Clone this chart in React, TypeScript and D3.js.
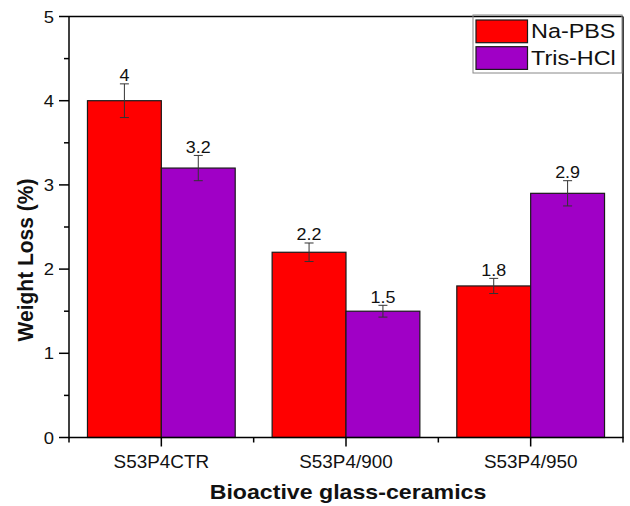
import React from "react";
import * as d3 from "d3";

// Data
const categories = ["S53P4CTR", "S53P4/900", "S53P4/950"];
const seriesNames = ["Na-PBS", "Tris-HCl"];
const naPBS = [4, 2.2, 1.8];
const naPBSErr = [0.2, 0.11, 0.09];
const trisHCl = [3.2, 1.5, 2.9];
const trisHClErr = [0.15, 0.07, 0.15];
const yTicks = [0, 1, 2, 3, 4, 5];
const yMinorTicks = [0.5, 1.5, 2.5, 3.5, 4.5];
const seriesColors = ["#FF0000", "#A000C6"];

const W = 630;
const H = 506;
const FONT = "'Liberation Sans', Arial, sans-serif";
const SX = 1.12; // horizontal text stretch

const plot = { left: 69, right: 623, top: 16.5, bottom: 437.5 };

export default function App() {
  const x = d3.scaleLinear().domain([0.5, categories.length + 0.5]).range([plot.left, plot.right]);
  const y = d3.scaleLinear().domain([0, 5]).range([plot.bottom, plot.top]);
  const barW = 0.4;

  const series = [
    { name: seriesNames[0], values: naPBS, errs: naPBSErr, color: seriesColors[0], offset: -barW },
    { name: seriesNames[1], values: trisHCl, errs: trisHClErr, color: seriesColors[1], offset: 0 },
  ];

  const xMajor = categories.map((_, i) => i + 1);
  const xMinor = d3.range(0.5, categories.length + 1, 1);

  const sText = (tx: number, ty: number, s = SX) => `translate(${tx},${ty}) scale(${s},1)`;

  return (
    <svg
      width={W}
      height={H}
      style={{ position: "absolute", left: 0, top: 0, background: "#fff" }}
      fontFamily={FONT}
    >
      <rect x={0} y={0} width={W} height={H} fill="#fff" />

      {/* bars */}
      {series.map((s) =>
        s.values.map((v, i) => {
          const x0 = x(i + 1 + s.offset);
          const x1 = x(i + 1 + s.offset + barW);
          return (
            <rect
              key={s.name + i}
              x={x0}
              y={y(v)}
              width={x1 - x0}
              height={y(0) - y(v)}
              fill={s.color}
              stroke="#1a1a1a"
              strokeWidth={1.2}
            />
          );
        })
      )}

      {/* error bars and value labels */}
      {series.map((s) =>
        s.values.map((v, i) => {
          const cx = x(i + 1 + s.offset + barW / 2);
          const yt = y(v + s.errs[i]);
          const yb = y(v - s.errs[i]);
          return (
            <g key={"e" + s.name + i}>
              <line x1={cx} x2={cx} y1={yt} y2={yb} stroke="#333" strokeWidth={1} />
              <line x1={cx - 4.5} x2={cx + 4.5} y1={yt} y2={yt} stroke="#333" strokeWidth={1} />
              <line x1={cx - 4.5} x2={cx + 4.5} y1={yb} y2={yb} stroke="#333" strokeWidth={1} />
              <text
                transform={sText(cx, yt - 2.5)}
                textAnchor="middle"
                fontSize={16}
                fill="#111"
              >
                {String(v)}
              </text>
            </g>
          );
        })
      )}

      {/* frame */}
      <line x1={plot.left} x2={plot.right} y1={plot.top} y2={plot.top} stroke="#000" strokeWidth={1.5} />
      <line x1={plot.right} x2={plot.right} y1={plot.top} y2={plot.bottom} stroke="#000" strokeWidth={1.5} />
      <line x1={plot.left} x2={plot.left} y1={plot.top} y2={plot.bottom + 0.75} stroke="#000" strokeWidth={1.5} />
      <line x1={plot.left} x2={plot.right + 0.75} y1={plot.bottom} y2={plot.bottom} stroke="#000" strokeWidth={1.5} />

      {/* y axis ticks */}
      {yTicks.map((t) => (
        <g key={"yt" + t}>
          <line x1={plot.left - 10} x2={plot.left} y1={y(t)} y2={y(t)} stroke="#000" strokeWidth={1.5} />
          <text
            transform={sText(plot.left - 15, y(t) + 6)}
            textAnchor="end"
            fontSize={16.5}
            fill="#111"
          >
            {t}
          </text>
        </g>
      ))}
      {yMinorTicks.map((t) => (
        <line key={"ym" + t} x1={plot.left - 5} x2={plot.left} y1={y(t)} y2={y(t)} stroke="#000" strokeWidth={1.5} />
      ))}

      {/* x axis ticks */}
      {xMajor.map((t, i) => (
        <g key={"xt" + t}>
          <line x1={x(t)} x2={x(t)} y1={plot.bottom} y2={plot.bottom + 9} stroke="#000" strokeWidth={1.5} />
          <text transform={sText(x(t), 467.5, 1.05)} textAnchor="middle" fontSize={18} fill="#111">
            {categories[i]}
          </text>
        </g>
      ))}
      {xMinor.map((t) => (
        <line key={"xm" + t} x1={x(t)} x2={x(t)} y1={plot.bottom} y2={plot.bottom + 5} stroke="#000" strokeWidth={1.5} />
      ))}

      {/* axis titles */}
      <text
        transform={sText((plot.left + plot.right) / 2 + 2, 499, 1.13)}
        textAnchor="middle"
        fontSize={20.5}
        fontWeight="bold"
        fill="#111"
      >
        Bioactive glass-ceramics
      </text>
      <text
        transform={`translate(33,260) rotate(-90) scale(1,1.07)`}
        textAnchor="middle"
        fontSize={21}
        fontWeight="bold"
        fill="#111"
      >
        Weight Loss (%)
      </text>

      {/* legend */}
      <g>
        <rect x={473} y={15} width={149} height={58} fill="none" stroke="#888" strokeWidth={1} />
        {series.map((s, i) => (
          <g key={"lg" + s.name}>
            <rect
              x={476}
              y={20 + i * 26.7}
              width={51.5}
              height={22.7}
              fill={s.color}
              stroke="#1a1a1a"
              strokeWidth={1.2}
            />
            <text transform={sText(531, 38.3 + i * 26.7, 1.2)} fontSize={19.5} fill="#111">
              {s.name}
            </text>
          </g>
        ))}
      </g>
    </svg>
  );
}
